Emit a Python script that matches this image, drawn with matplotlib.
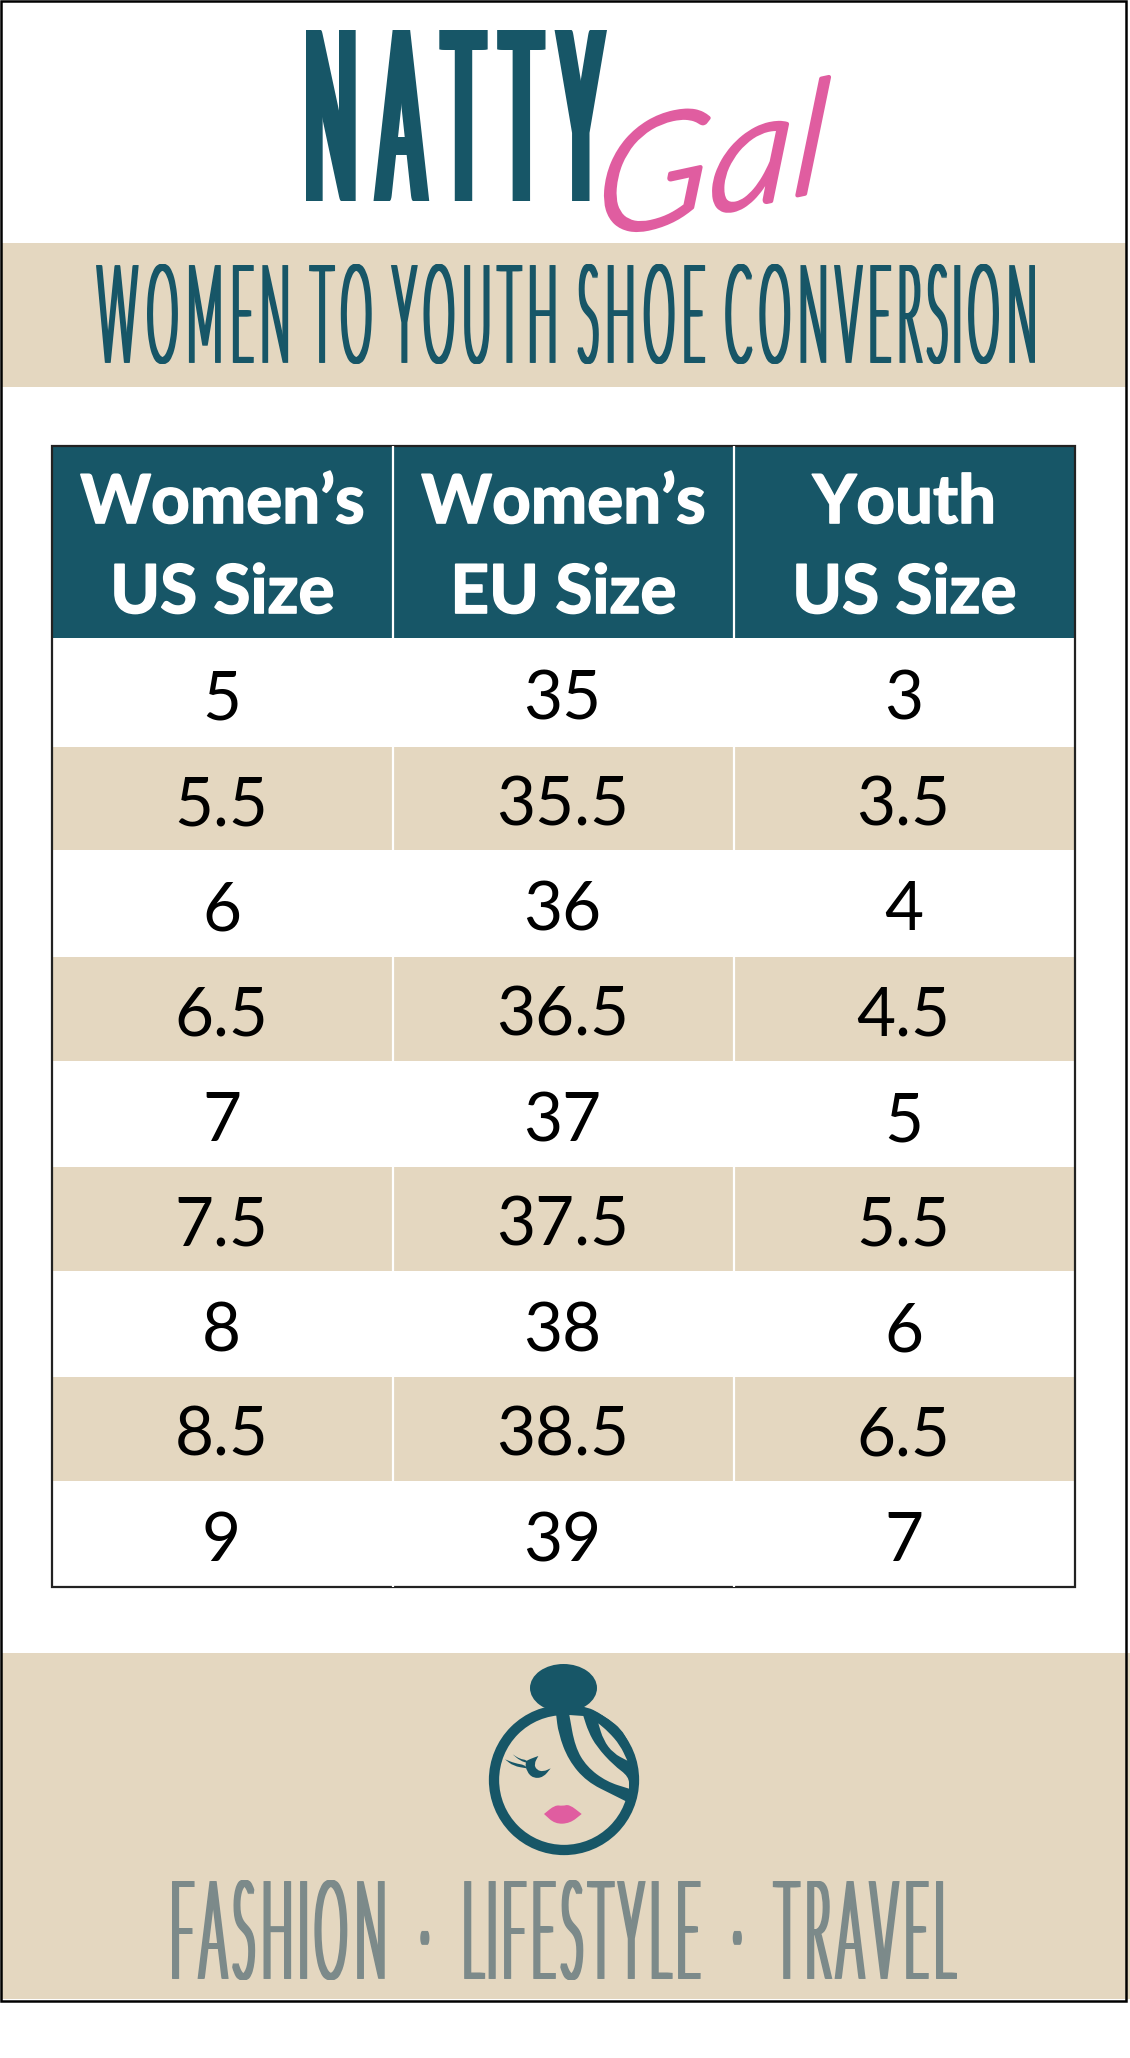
import matplotlib
matplotlib.use('Agg')
import numpy as np
from matplotlib import pyplot as plt
from matplotlib import patheffects
from matplotlib.patches import Rectangle, Circle, Ellipse, PathPatch
from matplotlib.path import Path
from matplotlib.transforms import Affine2D

# table values
headers = ["Women\u2019s\nUS Size", "Women\u2019s\nEU Size", "Youth\nUS Size"]
womens_us = ['5', '5.5', '6', '6.5', '7', '7.5', '8', '8.5', '9']
womens_eu = ['35', '35.5', '36', '36.5', '37', '37.5', '38', '38.5', '39']
youth_us = ['3', '3.5', '4', '4.5', '5', '5.5', '6', '6.5', '7']

TEAL = '#175667'
BEIGE = '#E4D7C0'
PINK = '#E05DA0'
GREY = '#7C8A8A'

# row edges and column edges of the table, in pixels
col_edges = [52, 393, 734, 1075]
row_edges = [446, 638, 747, 850, 957, 1061, 1167, 1271, 1377, 1481, 1587]


def narrow_glyphs(path, factor):
    # shrinks every glyph around its own centre, the gaps between them stay
    verts = path.vertices.copy()
    starts = np.where(path.codes == Path.MOVETO)[0]
    ends = list(starts[1:]) + [len(verts)]
    parts = []
    for a, b in zip(starts, ends):
        keep = path.codes[a:b] != Path.CLOSEPOLY
        xs = verts[a:b][keep, 0]
        parts.append([xs.min(), xs.max(), a, b])
    parts.sort()
    groups = []
    for p in parts:
        if groups and p[0] < groups[-1][1]:
            groups[-1][1] = max(groups[-1][1], p[1])
            groups[-1][2].append(p)
        else:
            groups.append([p[0], p[1], [p]])
    for x0, x1, members in groups:
        c = (x0 + x1) / 2
        for _, _, a, b in members:
            verts[a:b, 0] = c + (verts[a:b, 0] - c) * factor
    return Path(verts, path.codes)


class FitBox(patheffects.AbstractPathEffect):
    # squeezes a text into a pixel box, no condensed font is installed
    # spread thickens only the vertical strokes, stroke thickens all of them
    def __init__(self, x0, y0, x1, y1, shear=0, rot=0, stroke=0, spread=0, narrow=1):
        self.box = (x0, y0, x1, y1)
        self.shear = shear
        self.rot = rot
        self.stroke = stroke
        self.spread = spread
        self.narrow = narrow

    def draw_path(self, renderer, gc, tpath, affine, rgbFace=None):
        x0, y0, x1, y1 = self.box
        H = renderer.height
        if self.narrow != 1:
            tpath = narrow_glyphs(tpath, self.narrow)
        base = affine + Affine2D().skew_deg(self.shear, 0).rotate_deg(self.rot)
        b = tpath.transformed(base).get_extents()
        sx = (x1 - x0 - self.spread) / b.width
        fit = Affine2D().translate(-b.x0, -b.y0).scale(sx, (y1 - y0) / b.height).translate(x0, H - y1)
        gc0 = renderer.new_gc()
        gc0.copy_properties(gc)
        gc0.set_linewidth(self.stroke)
        gc0.set_foreground(rgbFace)
        dx = 0
        while dx <= self.spread:
            renderer.draw_path(gc0, tpath, base + fit + Affine2D().translate(dx, 0), rgbFace)
            dx += 1
        gc0.restore()


fig = plt.figure(figsize=(11.3, 20.58), dpi=100)
ax = fig.add_axes([0, 0, 1, 1])
ax.set_xlim(0, 1130)
ax.set_ylim(2058, 0)
ax.axis('off')


def squeezed(s, box, color, size, weight='normal', style='normal', family='Lato', **kw):
    ax.text((box[0] + box[2]) / 2, (box[1] + box[3]) / 2, s, color=color, family=family, weight=weight, style=style,
            fontsize=size, ha='center', va='center', path_effects=[FitBox(*box, **kw)])


# page frame and bands
ax.add_patch(Rectangle((2, 243), 1124, 144, fc=BEIGE, ec='none'))
ax.add_patch(Rectangle((2, 1653), 1128, 346, fc=BEIGE, ec='none'))
ax.add_patch(Rectangle((1, 1), 1125, 2000, fc='none', ec='black', lw=1.8, zorder=5))

# logo and titles
squeezed('NATTY', (306, 30, 607, 201), TEAL, 62, spread=11, narrow=0.68)
squeezed('Gal', (606, 77, 829, 230), PINK, 90, style='italic', weight=300, shear=18, rot=14, stroke=3)
squeezed('WOMEN TO YOUTH SHOE CONVERSION', (96, 264, 1035, 364), TEAL, 36, weight=300, spread=4, narrow=0.8)
squeezed('FASHION  \u00b7  LIFESTYLE  \u00b7  TRAVEL', (172, 1880, 957, 1980), GREY, 30, weight=300, spread=5, narrow=0.8)

# table body
columns = [womens_us, womens_eu, youth_us]
ax.add_patch(Rectangle((col_edges[0], row_edges[0]), col_edges[3] - col_edges[0], row_edges[1] - row_edges[0],
                       fc=TEAL, ec='none'))
for i in range(len(womens_us)):
    top, bottom = row_edges[i + 1], row_edges[i + 2]
    if i % 2 == 1:
        ax.add_patch(Rectangle((col_edges[0], top), col_edges[3] - col_edges[0], bottom - top, fc=BEIGE, ec='none'))
    for j, col in enumerate(columns):
        ax.text((col_edges[j] + col_edges[j + 1]) / 2 - 1, (top + bottom) / 2 + 2, col[i], ha='center', va='center_baseline',
                family='Lato', fontsize=48.5, color='black')
bolder = [patheffects.withStroke(linewidth=1.2, foreground='white')]
for j, h in enumerate(headers):
    xc = (col_edges[j] + col_edges[j + 1]) / 2
    for line, y in zip(h.split('\n'), [504, 594]):
        ax.text(xc, y, line, ha='center', va='center', family='Lato', weight='bold', fontsize=48.5, color='white',
                path_effects=bolder)
ax.vlines(col_edges[1:3], row_edges[0], row_edges[-1], color='white', lw=1.6)
ax.add_patch(Rectangle((col_edges[0], row_edges[0]), col_edges[3] - col_edges[0], row_edges[-1] - row_edges[0],
                       fc='none', ec='#222222', lw=1.6))


# face logo, traced on a 3x crop starting at (480, 1660)
# a point given twice stays a sharp corner, the rest is rounded
def blob(points, color):
    pts = [(480 + x / 3, 1660 + y / 3) for x, y in points]
    n = len(pts)
    mid = lambda a, b: ((a[0] + b[0]) / 2, (a[1] + b[1]) / 2)
    verts = [mid(pts[0], pts[1])]
    codes = [Path.MOVETO]
    for i in range(1, n + 1):
        verts += [pts[i % n], mid(pts[i % n], pts[(i + 1) % n])]
        codes += [Path.CURVE3, Path.CURVE3]
    ax.add_patch(PathPatch(Path(verts, codes), fc=color, ec='none'))


ax.add_patch(Circle((564, 1780), 70, fc='none', ec=TEAL, lw=7.4))
ax.add_patch(Ellipse((563.5, 1688), 67, 48, fc=TEAL, ec='none'))
blob([(195, 140), (228, 160), (228, 160), (235, 220), (265, 300), (320, 365), (400, 405), (440, 425), (440, 425),
      (470, 395), (470, 330), (440, 220), (370, 165), (310, 135)], TEAL)
blob([(268, 165), (268, 165), (310, 168), (310, 168), (325, 215), (350, 260), (400, 315), (447, 350), (447, 386), (447, 386),
      (380, 365), (320, 320), (285, 260)], BEIGE)
blob([(355, 190), (355, 190), (385, 215), (420, 255), (442, 302), (442, 302), (400, 280), (370, 240)], BEIGE)
blob([(175, 288), (175, 288), (150, 297), (135, 305), (140, 335), (160, 355), (190, 352), (212, 325), (212, 325), (190, 335),
      (170, 330), (162, 312)], TEAL)
blob([(75, 298), (75, 298), (100, 318), (140, 325), (140, 325), (135, 315), (105, 310)], TEAL)
blob([(98, 283), (98, 283), (120, 302), (145, 310), (145, 310), (140, 300), (120, 297)], TEAL)
blob([(192, 462), (192, 462), (225, 435), (248, 438), (268, 433), (305, 462), (305, 462), (270, 490), (225, 492)], PINK)

fig.savefig('out.png', dpi=100)
